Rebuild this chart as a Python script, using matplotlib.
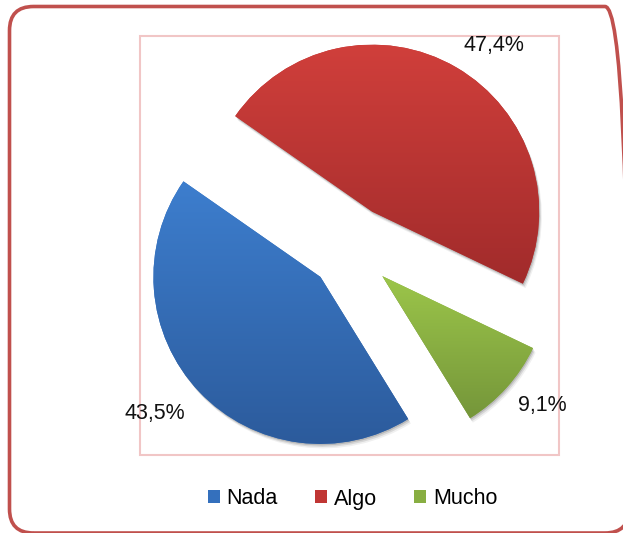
import numpy as np
import matplotlib
import matplotlib.pyplot as plt
from matplotlib import font_manager
from matplotlib.colors import LinearSegmentedColormap
from matplotlib.patches import Wedge, Rectangle, FancyBboxPatch, Patch

categories = ['Nada', 'Algo', 'Mucho']
values = [43.5, 47.4, 9.1]
# gradient ends for each slice (top, bottom)
top_colors = ['#3D7ECE', '#D03F3B', '#9CC64A']
bottom_colors = ['#2C5B9C', '#A12B2B', '#75963A']
legend_colors = ['#3470BD', '#C03634', '#88AE42']

# pick a condensed face if one is there
names = {f.name for f in font_manager.fontManager.ttflist}
family = ['Liberation Sans Narrow'] if 'Liberation Sans Narrow' in names else ['Liberation Sans']
plt.rcParams['font.family'] = family + ['DejaVu Sans']

W, H = 623, 533
fig = plt.figure(figsize=(W / 100, H / 100), dpi=100, facecolor='white')
ax = fig.add_axes([0, 0, 1, 1])

radius = 167
center = (351, 285)
# pie adds explode straight to the centre, so scale it by the radius
explode = [0.252 * radius] * 3
wedges, _ = ax.pie(values, explode=explode, startangle=301.7,
                   counterclock=False, radius=radius, center=center,
                   colors=legend_colors, wedgeprops=dict(linewidth=0))

# soft drop shadow behind each slice + vertical gradient clipped to it
for w, c_top, c_bot in zip(wedges, top_colors, bottom_colors):
    cx, cy = w.center
    for k, a in [(4.5, 0.06), (3.0, 0.10), (1.5, 0.14)]:
        sh = Wedge((cx + k * 0.6, cy - k), w.r, w.theta1, w.theta2,
                   facecolor='black', alpha=a, linewidth=0, zorder=0.5)
        ax.add_patch(sh)
    ext = w.get_path().get_extents()
    grad = np.linspace(0, 1, 256).reshape(-1, 1)
    cmap = LinearSegmentedColormap.from_list('g', [c_bot, c_top])
    im = ax.imshow(grad, cmap=cmap, origin='lower', aspect='auto',
                   extent=(ext.x0, ext.x1, ext.y0, ext.y1), zorder=2)
    im.set_clip_path(w)

# percentage labels just outside each slice
label_dist = [1.284, 1.235, 1.23]
label_nudge = [-3.8, -5.9, 2.9]
for w, v, dist, nudge in zip(wedges, values, label_dist, label_nudge):
    ang = np.deg2rad((w.theta1 + w.theta2) / 2 + nudge)
    x = w.center[0] + dist * w.r * np.cos(ang)
    y = w.center[1] + dist * w.r * np.sin(ang)
    ax.text(x, y, f'{v:.1f}%'.replace('.', ','), ha='center', va='center',
            fontsize=15.5, color='#111111', zorder=5)

# plot area frame
ax.add_patch(Rectangle((139.5, 78), 419, 419, fill=False,
                       edgecolor='#F1C6C6', linewidth=1.5, zorder=1))
# outer rounded chart border, running off the right and bottom edges
# (clipped to the full-figure axes)
ax.add_patch(FancyBboxPatch((9.5, 0), 619.5, 526.5,
                            boxstyle='round,pad=0,rounding_size=24',
                            fill=False, edgecolor='#C0504D', linewidth=2.6,
                            zorder=6))

handles = [Patch(facecolor=c, edgecolor='none') for c in legend_colors]
ax.legend(handles, categories, ncol=3, loc='center',
          bbox_to_anchor=(352.5 / W, 1 - 499 / H), frameon=False,
          fontsize=15.5, handlelength=0.56, handleheight=0.56,
          handletextpad=0.3, columnspacing=1.75)

ax.set_xlim(0, W)
ax.set_ylim(0, H)
ax.set_aspect('auto')
ax.axis('off')

fig.savefig('out.png', dpi=100, facecolor='white')
